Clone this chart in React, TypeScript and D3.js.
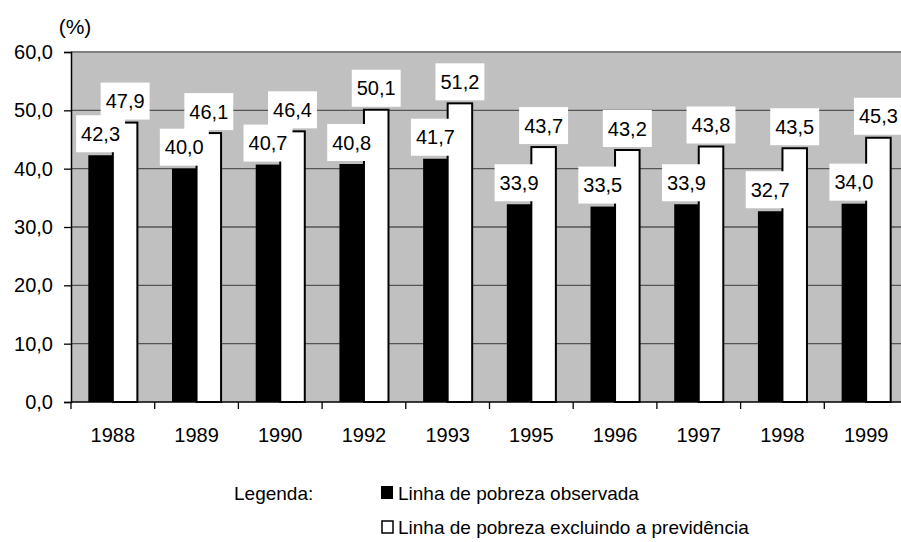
import React, { useEffect, useRef } from 'react';
import * as d3 from 'd3';

const years = ['1988', '1989', '1990', '1992', '1993', '1995', '1996', '1997', '1998', '1999'];
const observada = [42.3, 40.0, 40.7, 40.8, 41.7, 33.9, 33.5, 33.9, 32.7, 34.0];
const excluindo = [47.9, 46.1, 46.4, 50.1, 51.2, 43.7, 43.2, 43.8, 43.5, 45.3];
const yTicks = [0, 10, 20, 30, 40, 50, 60];
const legendLabels = ['Linha de pobreza observada', 'Linha de pobreza excluindo a previdência'];

const FONT = '"Liberation Sans", Arial, sans-serif';
const FS = 20;
const fmt = (v: number) => d3.format('.1f')(v).replace('.', ',');

export default function App() {
  const svgRef = useRef<SVGSVGElement>(null);
  const width = 901;
  const height = 542;

  useEffect(() => {
    if (!svgRef.current) return;
    const svg = d3.select(svgRef.current);
    svg.selectAll('*').remove();

    const left = 71;
    const top = 52;
    const bottom = 402;
    const bandW = 83.7;
    const right = left + bandW * years.length;

    const x = d3.scaleBand().domain(years).range([left, right]).padding(0);
    const y = d3.scaleLinear().domain([0, 60]).range([bottom, top]);

    const barW = bandW * 0.293;
    const groupOff = (x.bandwidth() - barW * 2) / 2;

    // plot background
    svg.append('rect')
      .attr('x', left).attr('y', top)
      .attr('width', right - left).attr('height', bottom - top)
      .attr('fill', '#c0c0c0');

    // gridlines
    svg.append('g')
      .selectAll('line')
      .data(yTicks.filter((t) => t > 0 && t < 60))
      .enter()
      .append('line')
      .attr('x1', left).attr('x2', right)
      .attr('y1', (d) => y(d)).attr('y2', (d) => y(d))
      .attr('stroke', '#555')
      .attr('stroke-width', 1.3);

    svg.append('line')
      .attr('x1', left).attr('x2', right)
      .attr('y1', y(60)).attr('y2', y(60))
      .attr('stroke', '#808080')
      .attr('stroke-width', 2);

    const g = svg.append('g');
    years.forEach((yr, i) => {
      const x0 = (x(yr) as number) + groupOff;
      g.append('rect')
        .attr('x', x0).attr('y', y(observada[i]))
        .attr('width', barW).attr('height', bottom - y(observada[i]))
        .attr('fill', '#000');
      g.append('rect')
        .attr('x', x0 + barW).attr('y', y(excluindo[i]))
        .attr('width', barW).attr('height', bottom - y(excluindo[i]))
        .attr('fill', '#fff')
        .attr('stroke', '#000')
        .attr('stroke-width', 2);
    });

    // axes
    const yAxis = svg.append('g')
      .attr('transform', `translate(${left},0)`)
      .call(d3.axisLeft(y).tickValues(yTicks).tickSize(7).tickPadding(11).tickFormat((d) => fmt(d as number)));
    yAxis.select('.domain').attr('stroke', '#000').attr('stroke-width', 1.5);
    yAxis.selectAll('.tick line').attr('stroke', '#000').attr('stroke-width', 1.3);
    yAxis.selectAll('text').attr('font-family', FONT).attr('font-size', FS).attr('fill', '#000');

    svg.append('line')
      .attr('x1', left).attr('x2', right)
      .attr('y1', bottom).attr('y2', bottom)
      .attr('stroke', '#000').attr('stroke-width', 1.5);

    const xt = svg.append('g');
    xt.selectAll('line')
      .data(d3.range(years.length + 1))
      .enter()
      .append('line')
      .attr('x1', (d) => left + d * bandW).attr('x2', (d) => left + d * bandW)
      .attr('y1', bottom).attr('y2', bottom + 7)
      .attr('stroke', '#000').attr('stroke-width', 1.3);
    xt.selectAll('text')
      .data(years)
      .enter()
      .append('text')
      .attr('x', (d) => (x(d) as number) + x.bandwidth() / 2)
      .attr('y', 442)
      .attr('text-anchor', 'middle')
      .attr('font-family', FONT)
      .attr('font-size', FS)
      .text((d) => d);

    svg.append('text')
      .attr('x', 75).attr('y', 34)
      .attr('text-anchor', 'middle')
      .attr('font-family', FONT).attr('font-size', 21)
      .text('(%)');

    // value labels
    const labels = svg.append('g');
    const addLabel = (cx: number, v: number) => {
      const lg = labels.append('g');
      const t = lg.append('text')
        .attr('x', cx)
        .attr('text-anchor', 'middle')
        .attr('font-family', FONT).attr('font-size', FS)
        .text(fmt(v));
      const tw = (t.node() as SVGTextElement).getComputedTextLength();
      const boxBottom = y(v) - 3;
      const boxH = 37;
      lg.insert('rect', 'text')
        .attr('x', cx - tw / 2 - 5).attr('y', boxBottom - boxH)
        .attr('width', tw + 10).attr('height', boxH)
        .attr('fill', '#fff');
      t.attr('y', boxBottom - boxH / 2 + 7);
    };
    years.forEach((yr, i) => {
      const x0 = (x(yr) as number) + groupOff;
      addLabel(x0 + barW / 2, observada[i]);
      addLabel(x0 + barW * 1.5, excluindo[i]);
    });

    // legend
    const lg = svg.append('g').attr('font-family', FONT).attr('font-size', 19);
    lg.append('text').attr('x', 234).attr('y', 500).text('Legenda:');
    lg.append('rect').attr('x', 381).attr('y', 486).attr('width', 12).attr('height', 13).attr('fill', '#000');
    lg.append('text').attr('x', 398).attr('y', 500).text(legendLabels[0]);
    lg.append('rect').attr('x', 382).attr('y', 521).attr('width', 11).attr('height', 12)
      .attr('fill', '#fff').attr('stroke', '#000').attr('stroke-width', 1.5);
    lg.append('text').attr('x', 398).attr('y', 534).text(legendLabels[1]);
  }, []);

  return (
    <div style={{ position: 'absolute', left: 0, top: 0, width, height, background: '#fff' }}>
      <svg ref={svgRef} width={width} height={height} style={{ display: 'block' }} />
    </div>
  );
}
